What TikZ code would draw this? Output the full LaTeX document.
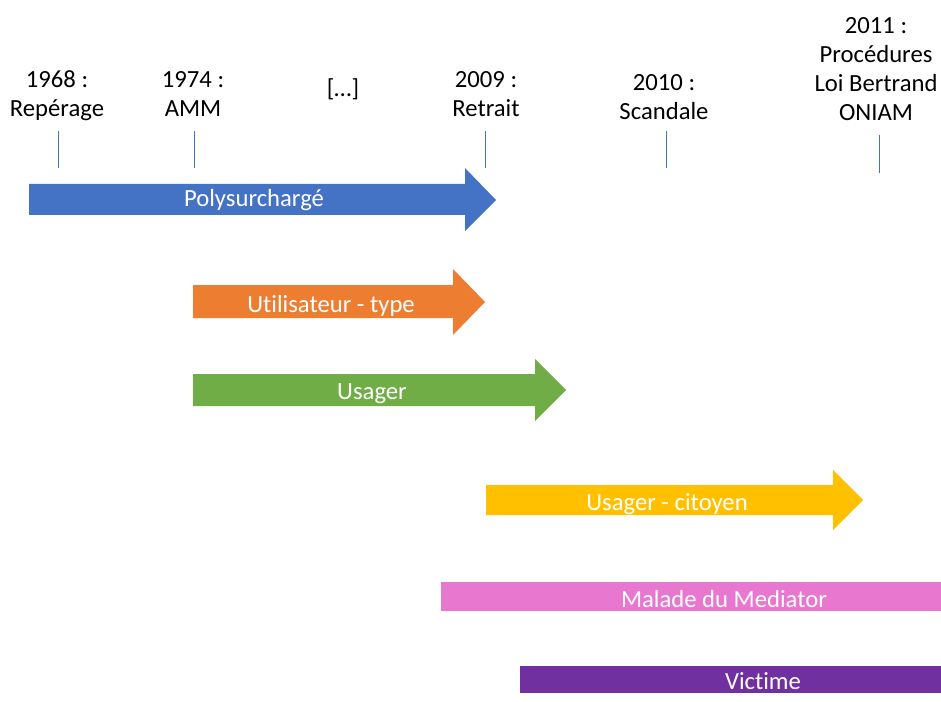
\documentclass[tikz,border=0pt]{standalone}
\usepackage{fontspec}
\setmainfont{Carlito}[Ligatures=CommonOff]
\definecolor{bleu}{HTML}{4472C4}
\definecolor{orange}{HTML}{ED7D31}
\definecolor{vert}{HTML}{70AD47}
\definecolor{jaune}{HTML}{FFC000}
\definecolor{rose}{HTML}{E878CF}
\definecolor{violet}{HTML}{7030A0}
\tikzset{
    %Define style for date labels
    jalon/.style={
           anchor=base,
           align=center,
           inner sep=0pt,
           font=\fontsize{18.5}{21.8}\selectfont},
    %Define style for labels inside the bands
    bande/.style={
           anchor=base,
           inner sep=0pt,
           text=white,
           font=\fontsize{18.5}{21.8}\selectfont},
    % Define tick style
    trait/.style={
           draw=bleu,
           line width=0.75pt}
}
\begin{document}
\begin{tikzpicture}[x=0.75pt,y=-0.75pt]
  \useasboundingbox (0,0) rectangle (941,702);
  % dates
  \node[jalon] (d1968) at (57,117) {1968 :\\Repérage};
  \node[jalon] (d1974) at (193,117) {1974 :\\AMM};
  \node[jalon] (etc) at (343,97) {[…]};
  \node[jalon] (d2009) at (486,117) {2009 :\\Retrait};
  \node[jalon] (d2010) at (664,120) {2010 :\\Scandale};
  \node[jalon] (d2011) at (876,121) {2011 :\\Procédures\\Loi Bertrand\\ONIAM};
  % ticks
  \draw[trait] (58,131) -- (58,168);
  \draw[trait] (194,131) -- (194,168);
  \draw[trait] (485,131) -- (485,168);
  \draw[trait] (666,131) -- (666,168);
  \draw[trait] (879,135) -- (879,173);
  % bands
  \fill[bleu] (29,184) -- (465,184) -- (465,168) -- (496,200) -- (465,231) -- (465,215) -- (29,215) -- cycle;
  \fill[orange] (193,285) -- (453,285) -- (453,269) -- (485,302) -- (453,335) -- (453,318) -- (193,318) -- cycle;
  \fill[vert] (193,374) -- (535,374) -- (535,359) -- (566,390) -- (535,421) -- (535,406) -- (193,406) -- cycle;
  \fill[jaune] (486,485) -- (833,485) -- (833,470) -- (863,500) -- (833,530) -- (833,515) -- (486,515) -- cycle;
  \fill[rose] (441,582) rectangle (941,611);
  \fill[violet] (520,666) rectangle (941,693);
  % labels
  \node[bande] (poly) at (254,207) {Polysurchargé};
  \node[bande] (util) at (331,312) {Utilisateur - type};
  \node[bande] (usag) at (372,399) {Usager};
  \node[bande] (cito) at (667,510) {Usager - citoyen};
  \node[bande] (mala) at (724,607) {Malade du Mediator};
  \node[bande] (vict) at (763,689) {Victime};
\end{tikzpicture}
\end{document}
